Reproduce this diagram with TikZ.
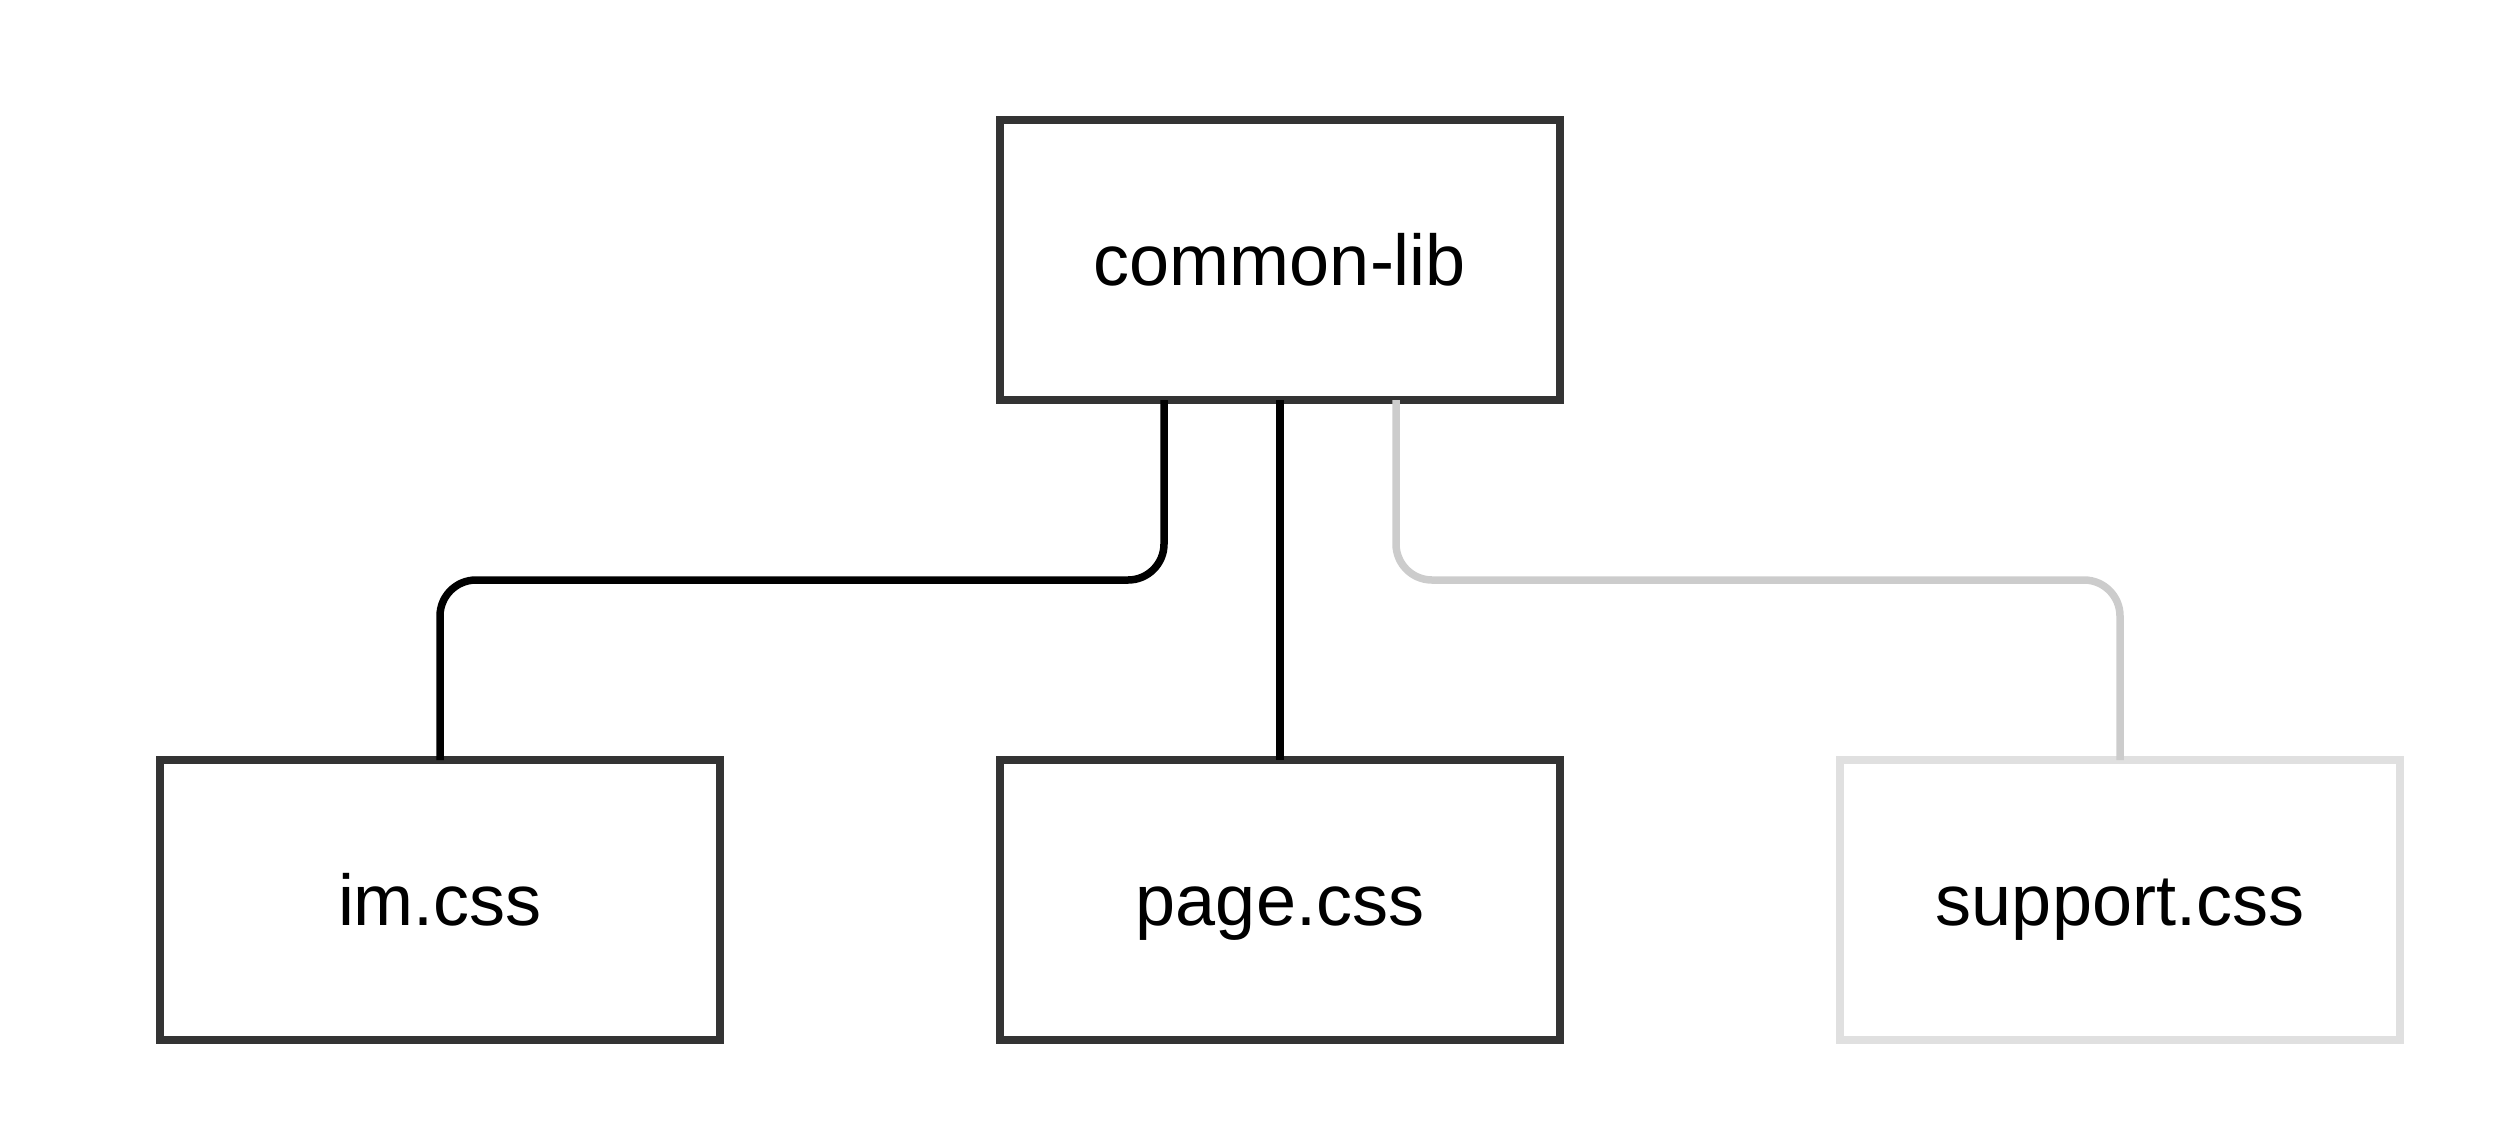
\documentclass[tikz,border=0pt]{standalone}
\usepackage{fontspec}
\setmainfont{Liberation Sans}
\definecolor{boxdark}{HTML}{333333}
\definecolor{boxlight}{HTML}{E0E0E0}
\definecolor{connlight}{HTML}{CCCCCC}
\begin{document}
\begin{tikzpicture}[x=1pt,y=-1pt,
  box/.style={draw=boxdark, line width=7.5pt, fill=white, minimum width=560pt, minimum height=280pt,
    inner sep=0pt, outer sep=0pt, font=\fontsize{72}{86}\selectfont, text height=51pt, text depth=0pt},
  lightbox/.style={box, draw=boxlight},
  conn/.style={draw=black, line width=7.5pt, rounded corners=36pt},
  lightconn/.style={conn, draw=connlight}]
\useasboundingbox (0,0) rectangle (2500,1120);
\node[box] (top) at (1280,260) {common-lib};
\node[box] (im) at (440,900) {im.css};
\node[box] (page) at (1280,900) {page.css};
\node[lightbox] (support) at (2120,900) {support.css};
\draw[conn] ([xshift=-116pt]top.south) -- ++(0,180) -| (im.north);
\draw[conn] (top.south) -- (page.north);
\draw[lightconn] ([xshift=116pt]top.south) -- ++(0,180) -| (support.north);
\end{tikzpicture}
\end{document}
